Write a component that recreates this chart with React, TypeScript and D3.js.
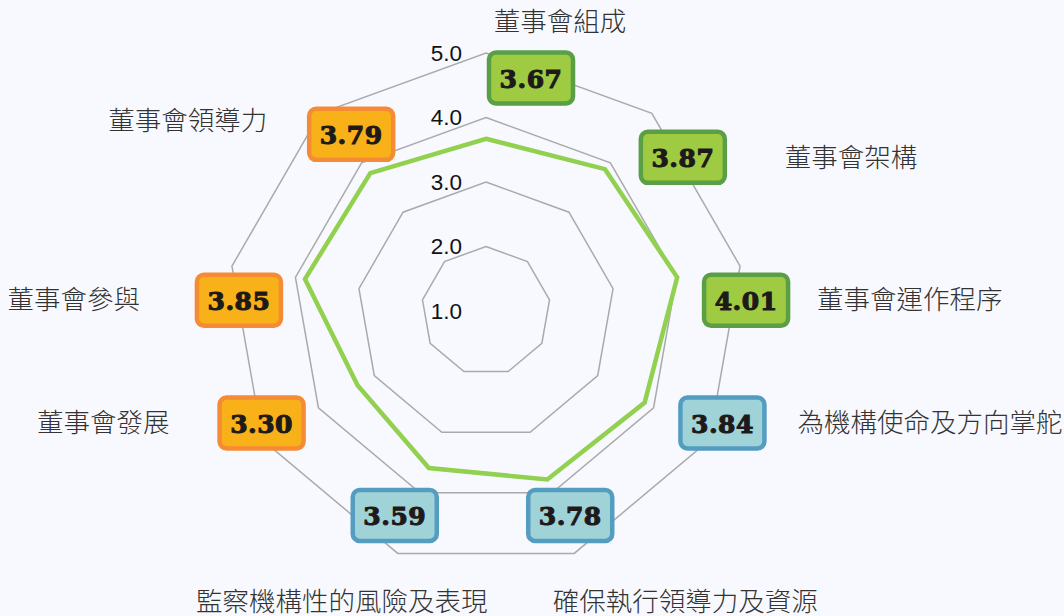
import React, { useEffect, useRef } from 'react';
import * as d3 from 'd3';

// chart data
const categories = [
  '董事會組成', '董事會架構', '董事會運作程序', '為機構使命及方向掌舵',
  '確保執行領導力及資源', '監察機構性的風險及表現', '董事會發展', '董事會參與', '董事會領導力'
];
const scores = [3.67, 3.87, 4.01, 3.84, 3.78, 3.59, 3.30, 3.85, 3.79];
const groups = ['a', 'a', 'a', 'b', 'b', 'b', 'c', 'c', 'c'];
const levels = [2, 3, 4, 5];
const tickLabels = ['1.0', '2.0', '3.0', '4.0', '5.0'];

// where the value boxes / category names sit, relative to the outer vertex
const boxNudge: [number, number][] = [
  [45, 25], [31, 44], [6, 34], [13, -17], [-4, -38], [-3, -38], [-1, -17], [7, 34], [31, 21]
];
const labelPlace: [number, number, string][] = [
  [29, -56, 'middle'], [102, 0, 'start'], [71, 0, 'start'], [75, 0, 'start'],
  [115, 86, 'middle'], [-53, 86, 'middle'], [-92, 0, 'end'], [-99, 0, 'end'], [-84, -14, 'end']
];

const palette: Record<string, { fill: string; stroke: string }> = {
  a: { fill: '#9fcb43', stroke: '#5a9e45' },
  b: { fill: '#a0d3d7', stroke: '#559cc1' },
  c: { fill: '#f8b118', stroke: '#f58b34' }
};

export default function App() {
  const ref = useRef<SVGSVGElement>(null);

  useEffect(() => {
    const width = 1064, height = 616;
    const cx = 486, cy = 311;
    const svg = d3.select(ref.current);
    svg.selectAll('*').remove();
    svg.attr('width', width).attr('height', height);

    svg.append('rect').attr('width', width).attr('height', height).attr('fill', '#f8f9fe');

    const r = d3.scaleLinear().domain([1, 5]).range([0, 258]);
    const n = categories.length;
    const angle = d3.scaleLinear().domain([0, n]).range([0, 2 * Math.PI]);
    const pt = (i: number, v: number): [number, number] => [
      cx + r(v) * Math.sin(angle(i)),
      cy - r(v) * Math.cos(angle(i))
    ];

    const g = svg.append('g');
    const line = d3.line().curve(d3.curveLinearClosed);

    g.selectAll('path.grid')
      .data(levels)
      .enter()
      .append('path')
      .attr('class', 'grid')
      .attr('d', (lv) => line(d3.range(n).map((i) => pt(i, lv))))
      .attr('fill', 'none')
      .attr('stroke', '#aaaaaa')
      .attr('stroke-width', 1.5);

    g.selectAll('text.tick')
      .data(tickLabels)
      .enter()
      .append('text')
      .attr('class', 'tick')
      .attr('x', cx - 24)
      .attr('y', (d) => cy - r(+d))
      .attr('dy', '0.35em')
      .attr('text-anchor', 'end')
      .attr('font-family', '"Liberation Sans Narrow", "Liberation Sans", sans-serif')
      .attr('font-size', 22.5)
      .attr('fill', '#111')
      .text((d) => d);

    g.append('path')
      .attr('d', line(scores.map((s, i) => pt(i, s))))
      .attr('fill', 'none')
      .attr('stroke', '#92d050')
      .attr('stroke-width', 4.5)
      .attr('stroke-linejoin', 'miter');

    const boxes = g.selectAll('g.box')
      .data(scores)
      .enter()
      .append('g')
      .attr('class', 'box')
      .attr('transform', (d, i) => {
        const [x, y] = pt(i, 5);
        return `translate(${x + boxNudge[i][0]},${y + boxNudge[i][1]})`;
      });

    boxes.append('rect')
      .attr('x', -42)
      .attr('y', -25.5)
      .attr('width', 84)
      .attr('height', 51)
      .attr('rx', 7)
      .attr('fill', (d, i) => palette[groups[i]].fill)
      .attr('stroke', (d, i) => palette[groups[i]].stroke)
      .attr('stroke-width', 4.5);

    boxes.append('text')
      .attr('y', 1)
      .attr('dy', '0.35em')
      .attr('text-anchor', 'middle')
      .attr('font-family', '"DejaVu Serif", serif')
      .attr('font-weight', 'bold')
      .attr('font-size', 25)
      .attr('fill', '#1e1a1a')
      .attr('stroke', '#1e1a1a')
      .attr('stroke-width', 1.1)
      .attr('letter-spacing', 0.5)
      .text((d) => d.toFixed(2));

    boxes.append('text')
      .attr('x', (d, i) => labelPlace[i][0])
      .attr('y', (d, i) => labelPlace[i][1])
      .attr('dy', '0.35em')
      .attr('text-anchor', (d, i) => labelPlace[i][2])
      .attr('font-family', '"Noto Sans CJK TC", "Noto Sans", sans-serif')
      .attr('font-weight', 300)
      .attr('font-size', 26.5)
      .attr('fill', '#333')
      .text((d, i) => categories[i]);
  }, []);

  return (
    <div style={{ position: 'absolute', left: 0, top: 0 }}>
      <svg ref={ref} style={{ display: 'block' }}></svg>
    </div>
  );
}
